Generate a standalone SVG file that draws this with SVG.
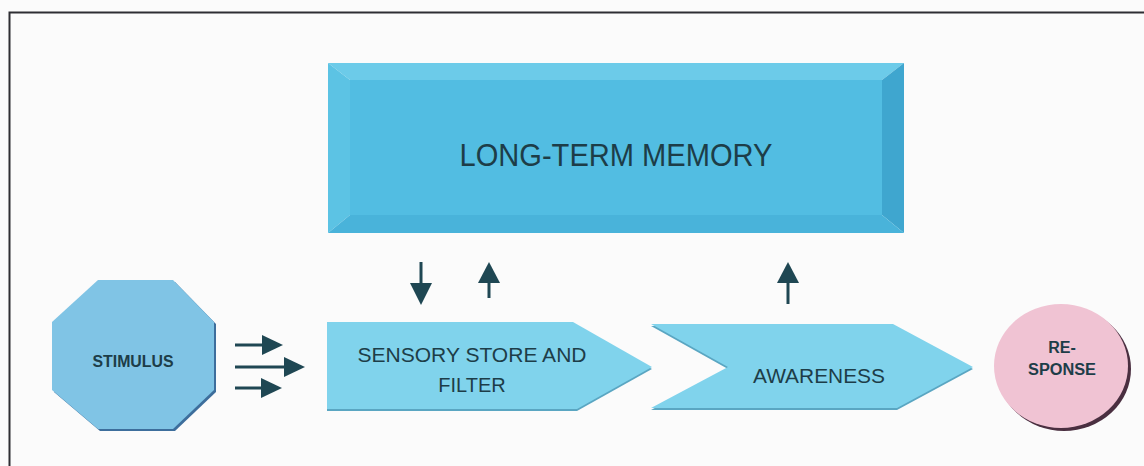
<svg xmlns="http://www.w3.org/2000/svg" width="1144" height="466" viewBox="0 0 1144 466">
<style>
.lbl{font-family:"Liberation Sans",Arial,sans-serif;fill:#1d3d48;text-anchor:middle}
.arr{fill:#1f4753}
.shaft{stroke:#1f4753;stroke-width:3}
</style>
<rect x="0" y="0" width="1144" height="466" fill="#fbfbfb"/>
<path d="M9.5 466 V12.5 H1144" fill="none" stroke="#2e2e33" stroke-width="2"/>

<g id="ltm">
  <polygon points="328,63 904,63 882,80 350,80" fill="#6ccbe9"/>
  <polygon points="328,63 350,80 350,215 328,233" fill="#5cc3e4"/>
  <polygon points="904,63 904,233 882,215 882,80" fill="#3fa6cf"/>
  <polygon points="328,233 904,233 882,215 350,215" fill="#49b3da"/>
  <rect x="350" y="80" width="532" height="135" fill="#52bde2"/>
  <text class="lbl" x="616" y="166" font-size="31" textLength="313" lengthAdjust="spacingAndGlyphs">LONG-TERM MEMORY</text>
</g>

<g id="stimulus">
  <polygon points="100,282 175,282 216,324 216,392 175,431 100,431 54,392 54,324" fill="#3d6e9c"/>
  <polygon points="98,280 173,280 214,322 214,390 173,429 98,429 52,390 52,322" fill="#80c4e5"/>
  <text class="lbl" x="133" y="367" font-size="17" font-weight="bold" textLength="81" lengthAdjust="spacingAndGlyphs">STIMULUS</text>
</g>

<g id="sensory">
  <polygon points="327,324 573,324 652,369 577,411 327,411" fill="#5aa6c2"/>
  <polygon points="327,322 573,322 652,367 577,409 327,409" fill="#80d3ec"/>
  <text class="lbl" x="472" y="362" font-size="20" textLength="229" lengthAdjust="spacingAndGlyphs">SENSORY STORE AND</text>
  <text class="lbl" x="472" y="392" font-size="20">FILTER</text>
</g>

<g id="awareness">
  <polygon points="651,326 893,326 973,369 897,410 651,410 728,369" fill="#5aa6c2"/>
  <polygon points="651,324 893,324 973,367 897,408 651,408 728,367" fill="#80d3ec"/>
  <text class="lbl" x="819" y="383" font-size="20" textLength="132" lengthAdjust="spacingAndGlyphs">AWARENESS</text>
</g>

<g id="response">
  <ellipse cx="1064" cy="369" rx="67" ry="62" fill="#4a2f40"/>
  <ellipse cx="1061" cy="366" rx="67" ry="62" fill="#f0c3d3"/>
  <text class="lbl" x="1062" y="353" font-size="16" font-weight="bold">RE-</text>
  <text class="lbl" x="1062" y="375" font-size="16" font-weight="bold" textLength="68" lengthAdjust="spacingAndGlyphs">SPONSE</text>
</g>

<g id="connectors">
  <line class="shaft" x1="235" y1="345" x2="264" y2="345"/>
  <polygon class="arr" points="262,335 283,345 262,355"/>
  <line class="shaft" x1="235" y1="367" x2="286" y2="367"/>
  <polygon class="arr" points="284,357 305,367 284,377"/>
  <line class="shaft" x1="235" y1="388" x2="263" y2="388"/>
  <polygon class="arr" points="261,378 282,388 261,398"/>

  <line class="shaft" x1="421" y1="262" x2="421" y2="285"/>
  <polygon class="arr" points="410,283 432,283 421,305"/>
  <line class="shaft" x1="489" y1="281" x2="489" y2="298"/>
  <polygon class="arr" points="478,283 500,283 489,262"/>
  <line class="shaft" x1="788" y1="281" x2="788" y2="304"/>
  <polygon class="arr" points="777,283 799,283 788,262"/>
</g>
</svg>
